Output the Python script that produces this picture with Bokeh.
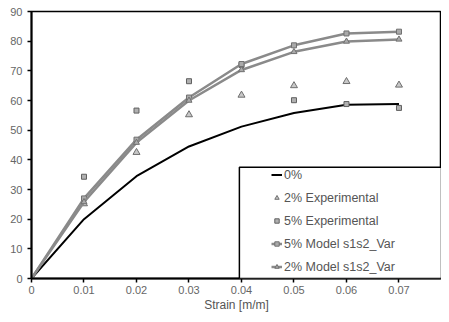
from bokeh.plotting import figure
from bokeh.models import Legend, LegendItem, FixedTicker, BoxAnnotation, Range1d
from bokeh.embed import file_html
from bokeh.resources import INLINE

strain = [0.0, 0.01, 0.02, 0.03, 0.04, 0.05, 0.06, 0.07]
pct0 = [0.0, 20.0, 34.5, 44.5, 51.2, 55.8, 58.6, 58.8]
model5 = [0.0, 27.0, 46.8, 61.0, 72.3, 78.6, 82.6, 83.2]
model2 = [0.0, 25.8, 45.8, 60.0, 70.3, 76.4, 79.9, 80.6]
exp_strain = [0.01, 0.02, 0.03, 0.04, 0.05, 0.06, 0.07]
exp2 = [25.2, 42.5, 55.2, 61.8, 65.0, 66.4, 65.2]
exp5 = [34.3, 56.6, 66.5, 72.0, 60.1, 58.8, 57.5]
x_ticks = [0.0, 0.01, 0.02, 0.03, 0.04, 0.05, 0.06, 0.07]
x_tick_labels = ["0", "0.01", "0.02", "0.03", "0.04", "0.05", "0.06", "0.07"]
y_ticks = [0, 10, 20, 30, 40, 50, 60, 70, 80, 90]

FONT = "Liberation Sans"
GRAY = "#8a8a8a"

p = figure(width=441, height=314, output_backend="svg", toolbar_location=None,
           x_range=Range1d(0, 0.0781), y_range=Range1d(0, 90),
           min_border_left=31, min_border_right=0, min_border_top=11,
           min_border_bottom=30)
p.grid.visible = False
p.outline_line_color = "black"
p.outline_line_width = 1.5
p.background_fill_color = "white"

for ax in (p.xaxis[0], p.yaxis[0]):
    ax.axis_line_color = "black"
    ax.axis_line_width = 2
    ax.major_tick_line_color = "black"
    ax.major_tick_line_width = 1.5
    ax.major_tick_out = 4
    ax.major_tick_in = 0
    ax.minor_tick_line_color = None
    ax.major_label_text_font = FONT
    ax.major_label_text_font_size = "11px"
    ax.major_label_text_color = "#666666"

p.xaxis.ticker = FixedTicker(ticks=x_ticks)
p.xaxis.major_label_overrides = {t: l for t, l in zip(x_ticks, x_tick_labels)}
p.xaxis.major_label_standoff = 3
p.xaxis.axis_label = "Strain [m/m]"
p.xaxis.axis_label_text_font = FONT
p.xaxis.axis_label_text_font_size = "12px"
p.xaxis.axis_label_text_font_style = "normal"
p.xaxis.axis_label_text_color = "#555555"
p.xaxis.axis_label_standoff = 1
p.yaxis.ticker = FixedTicker(ticks=y_ticks)
p.yaxis.major_label_standoff = 5

# legend frame
box = BoxAnnotation(left=0.0396, right=0.0781, bottom=0, top=37.5,
                    fill_color="white", fill_alpha=1.0,
                    line_color="black", line_alpha=1.0, line_width=1.5,
                    level="overlay")
p.add_layout(box)

r0 = p.line(strain, pct0, line_color="black", line_width=2)
r_e2 = p.scatter(exp_strain, exp2, marker="triangle", size=7,
                 fill_color="#c8c8c8", line_color="#6e6e6e", line_width=1)
r_e5 = p.scatter(exp_strain, exp5, marker="square", size=5,
                 fill_color="#b0b0b0", line_color="#606060", line_width=1)
r_m5l = p.line(strain, model5, line_color=GRAY, line_width=2.5)
r_m5s = p.scatter(strain, model5, marker="square", size=5,
                  fill_color="#aaaaaa", line_color="#707070")
r_m2l = p.line(strain, model2, line_color=GRAY, line_width=2.5)
r_m2s = p.scatter(strain, model2, marker="triangle", size=6,
                  fill_color="#aaaaaa", line_color="#707070")

legend = Legend(items=[
    LegendItem(label="0%", renderers=[r0]),
    LegendItem(label="2% Experimental", renderers=[r_e2]),
    LegendItem(label="5% Experimental", renderers=[r_e5]),
    LegendItem(label="5% Model s1s2_Var", renderers=[r_m5l, r_m5s]),
    LegendItem(label="2% Model s1s2_Var", renderers=[r_m2l, r_m2s]),
], location=(240, 0))
legend.padding = 0
legend.margin = 0
legend.spacing = 0
legend.glyph_width = 11
legend.glyph_height = 23
legend.label_height = 23
legend.label_standoff = 2
legend.label_text_font = FONT
legend.label_text_font_size = "12.5px"
legend.label_text_color = "#555555"
legend.background_fill_alpha = 0
legend.border_line_alpha = 0
p.add_layout(legend)

open("out.html", "w").write(file_html(p, INLINE))
